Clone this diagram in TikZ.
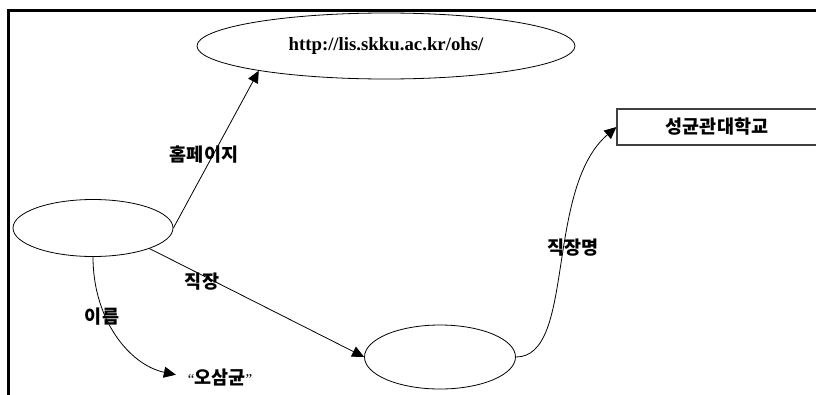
\documentclass[tikz,border=0pt]{standalone}
\usepackage{fontspec}
\setmainfont{Liberation Serif}
\newfontfamily\krfont{Noto Sans CJK KR}
\usetikzlibrary{shapes.geometric, arrows.meta}

\tikzset{
    entity/.style={draw, ellipse, line width=0.8pt, inner sep=0pt},
    rel/.style={line width=0.8pt, -{Triangle[length=12pt, width=11pt]}},
    lbl/.style={font=\krfont\bfseries\fontsize{18.5}{21}\selectfont, inner sep=1pt}
}
\newcommand{\qmark}[1]{{\rmfamily\mdseries\fontsize{15}{18}\selectfont #1}}

\begin{document}
\begin{tikzpicture}[x=1pt, y=1pt]
        \useasboundingbox (0, 0) rectangle (816, -394);
        \clip (0, 0) rectangle (816, -394);
        \draw[line width=2.5pt] (8.7, -400) -- (8.7, -10.3) -- (830, -10.3);
        \node[entity, minimum width=378pt, minimum height=66pt, font=\bfseries\fontsize{18.8}{21}\selectfont] (url) at (386, -46) {http://lis.skku.ac.kr/ohs/};
        \node[entity, minimum width=160pt, minimum height=57pt] (person) at (93, -228) {};
        \node[entity, minimum width=151pt, minimum height=64pt] (org) at (440, -357) {};
        \node[lbl, draw=black!75, line width=1.2pt, minimum width=200pt, minimum height=36pt] (univ) at (717, -127) {성균관대학교};
        \node[lbl] (name) at (220, -377) {\qmark{“}오삼균\qmark{”}};
        \draw[rel] (person.east) -- (url.191);
        \draw[rel] (person.-20) -- (org.west);
        \draw[rel, shorten >=11pt] (person.south) .. controls +(0, -63) and +(-57, 12) .. (name.west);
        \draw[rel] (org.east) .. controls +(60, 0) and +(-72, -62) .. (univ.west);
        \node[lbl] (homepage) at (204, -155) {홈페이지};
        \node[lbl] (work) at (202, -282) {직장};
        \node[lbl] (fullname) at (102, -317) {이름};
        \node[lbl] (workname) at (573, -248) {직장명};
\end{tikzpicture}
\end{document}
